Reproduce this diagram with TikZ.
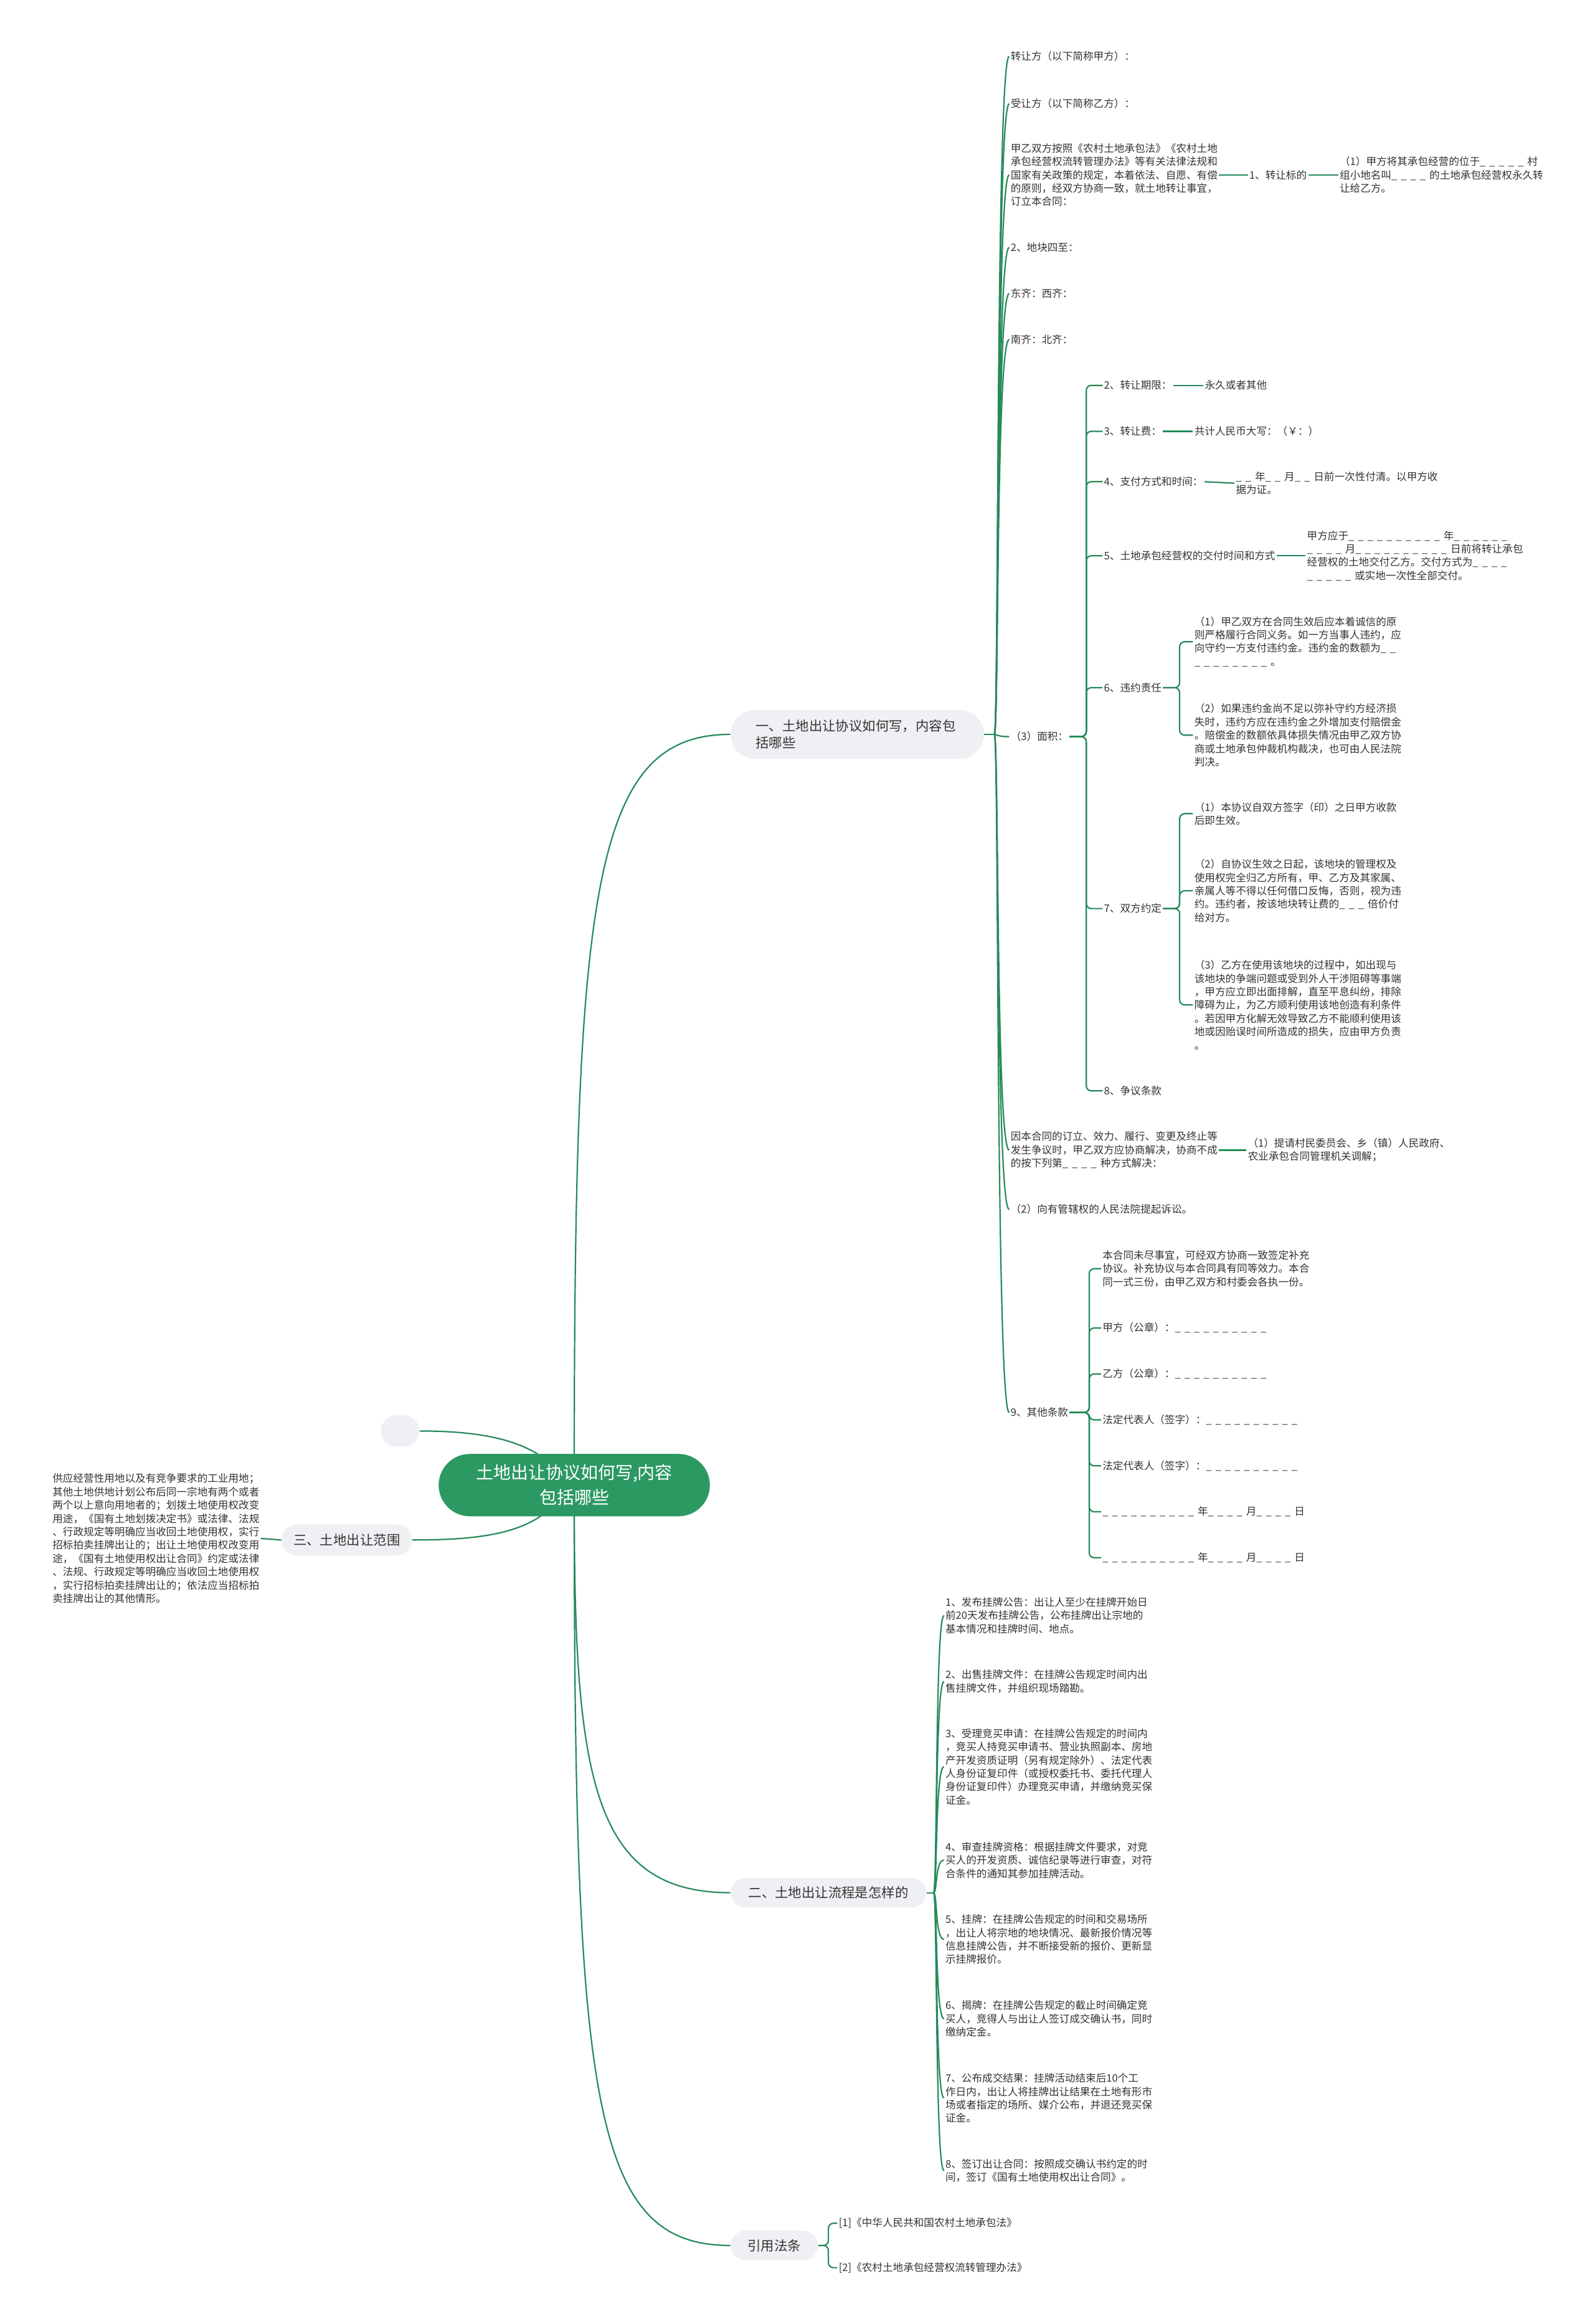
\documentclass[tikz,border=0pt]{standalone}
\usepackage{fontspec}
\setmainfont{Noto Sans CJK SC}
\usetikzlibrary{backgrounds}
\definecolor{lc}{HTML}{268A5A}
\definecolor{rootc}{HTML}{2C9963}
\definecolor{pillc}{HTML}{EEF0F3}
\definecolor{tc}{HTML}{333333}
\newcommand\bk[1]{\foreach\bkv in {1,...,#1}{\makebox[0.92em][l]{\_}}}
\tikzset{
  con/.style={draw=lc, line width=1.1pt},
  tx/.style={anchor=west, inner sep=1pt, align=left, text=tc, font=\fontsize{8.3}{10.7}\selectfont},
  pill/.style={fill=pillc, text=tc, font=\fontsize{10.7}{13.5}\selectfont, inner sep=0pt},
}
\begin{document}
\begin{tikzpicture}[x=1.1896pt,y=-1.1896pt]
\useasboundingbox (0,0) rectangle (1076,1568);
% root and branches
\node[fill=rootc, text=white, font=\fontsize{14}{20}\selectfont, align=center, minimum width=217.7pt, minimum height=50pt, rounded corners=25pt, inner sep=0pt] (root) at (387.5,1002) {土地出让协议如何写,内容\\包括哪些};
\node[pill, minimum width=203.4pt, minimum height=39.3pt, rounded corners=19.6pt, text width=163pt, align=left] (b1) at (578.5,495.5) {一、土地出让协议如何写，内容包\\括哪些};
\node[pill, minimum width=157pt, minimum height=23.8pt, rounded corners=11.9pt] (b2) at (559,1277) {二、土地出让流程是怎样的};
\node[pill, minimum width=70.2pt, minimum height=23.8pt, rounded corners=11.9pt] (b3) at (522.5,1515) {引用法条};
\node[pill, minimum width=104.7pt, minimum height=25pt, rounded corners=12.5pt] (b4) at (234,1039) {三、土地出让范围};
\node[pill, minimum width=31pt, minimum height=25pt, rounded corners=12.5pt] (em) at (270,965.5) {};
% left block
\node[tx, anchor=east] (l1) at (176,1038) {供应经营性用地以及有竞争要求的工业用地；\\其他土地供地计划公布后同一宗地有两个或者\\两个以上意向用地者的；划拨土地使用权改变\\用途，《国有土地划拨决定书》或法律、法规\\、行政规定等明确应当收回土地使用权，实行\\招标拍卖挂牌出让的；出让土地使用权改变用\\途，《国有土地使用权出让合同》约定或法律\\、法规、行政规定等明确应当收回土地使用权\\，实行招标拍卖挂牌出让的；依法应当招标拍\\卖挂牌出让的其他情形。};
% branch one children
\node[tx] (c1) at (681,38) {转让方（以下简称甲方）：};
\node[tx] (c2) at (681,70) {受让方（以下简称乙方）：};
\node[tx] (c3) at (681,118) {甲乙双方按照《农村土地承包法》《农村土地\\承包经营权流转管理办法》等有关法律法规和\\国家有关政策的规定，本着依法、自愿、有偿\\的原则，经双方协商一致，就土地转让事宜，\\订立本合同：};
\node[tx] (c3a) at (842,118) {1、转让标的};
\node[tx] (c3b) at (903,118) {（1）甲方将其承包经营的位于\bk{5}村\\组小地名叫\bk{4}的土地承包经营权永久转\\让给乙方。};
\node[tx] (c4) at (681,167) {2、地块四至：};
\node[tx] (c5) at (681,198) {东齐：西齐：};
\node[tx] (c6) at (681,229) {南齐：北齐：};
\node[tx] (c7) at (681,497) {（3）面积：};
\node[tx] (c8) at (681,776) {因本合同的订立、效力、履行、变更及终止等\\发生争议时，甲乙双方应协商解决，协商不成\\的按下列第\bk{4}种方式解决：};
\node[tx] (c8a) at (841,776) {（1）提请村民委员会、乡（镇）人民政府、\\农业承包合同管理机关调解；};
\node[tx] (c9) at (681,816) {（2）向有管辖权的人民法院提起诉讼。};
\node[tx] (c10) at (681,953) {9、其他条款};
% area children
\node[tx] (d1) at (744,260) {2、转让期限：};
\node[tx] (e1) at (812,260) {永久或者其他};
\node[tx] (d2) at (744,291) {3、转让费：};
\node[tx] (e2) at (805,291) {共计人民币大写：（￥：）};
\node[tx] (d3) at (744,325) {4、支付方式和时间：};
\node[tx] (e3) at (833,326) {\bk{2}年\bk{2}月\bk{2}日前一次性付清。以甲方收\\据为证。};
\node[tx] (d4) at (744,375) {5、土地承包经营权的交付时间和方式};
\node[tx] (e4) at (881,375) {甲方应于\bk{10}年\bk{6}\\\bk{4}月\bk{10}日前将转让承包\\经营权的土地交付乙方。交付方式为\bk{4}\\\bk{5}或实地一次性全部交付。};
\node[tx] (d5) at (744,464) {6、违约责任};
\node[tx] (f1) at (805,433) {（1）甲乙双方在合同生效后应本着诚信的原\\则严格履行合同义务。如一方当事人违约，应\\向守约一方支付违约金。违约金的数额为\bk{2}\\\bk{8}。};
\node[tx] (f2) at (805,496) {（2）如果违约金尚不足以弥补守约方经济损\\失时，违约方应在违约金之外增加支付赔偿金\\。赔偿金的数额依具体损失情况由甲乙双方协\\商或土地承包仲裁机构裁决，也可由人民法院\\判决。};
\node[tx] (d6) at (744,613) {7、双方约定};
\node[tx] (g1) at (805,549) {（1）本协议自双方签字（印）之日甲方收款\\后即生效。};
\node[tx] (g2) at (805,601) {（2）自协议生效之日起，该地块的管理权及\\使用权完全归乙方所有，甲、乙方及其家属、\\亲属人等不得以任何借口反悔，否则，视为违\\约。违约者，按该地块转让费的\bk{3}倍价付\\给对方。};
\node[tx] (g3) at (805,678) {（3）乙方在使用该地块的过程中，如出现与\\该地块的争端问题或受到外人干涉阻碍等事端\\，甲方应立即出面排解，直至平息纠纷，排除\\障碍为止，为乙方顺利使用该地创造有利条件\\。若因甲方化解无效导致乙方不能顺利使用该\\地或因贻误时间所造成的损失，应由甲方负责\\。};
\node[tx] (d7) at (744,736) {8、争议条款};
% other clauses children
\node[tx] (h1) at (743,856) {本合同未尽事宜，可经双方协商一致签定补充\\协议。补充协议与本合同具有同等效力。本合\\同一式三份，由甲乙双方和村委会各执一份。};
\node[tx] (h2) at (743,896) {甲方（公章）：\bk{10}};
\node[tx] (h3) at (743,927) {乙方（公章）：\bk{10}};
\node[tx] (h4) at (743,958) {法定代表人（签字）：\bk{10}};
\node[tx] (h5) at (743,989) {法定代表人（签字）：\bk{10}};
\node[tx] (h6) at (743,1020) {\bk{10}年\bk{4}月\bk{4}日};
\node[tx] (h7) at (743,1051) {\bk{10}年\bk{4}月\bk{4}日};
% branch two children
\node[tx] (i1) at (637,1090) {1、发布挂牌公告：出让人至少在挂牌开始日\\前20天发布挂牌公告，公布挂牌出让宗地的\\基本情况和挂牌时间、地点。};
\node[tx] (i2) at (637,1134.5) {2、出售挂牌文件：在挂牌公告规定时间内出\\售挂牌文件，并组织现场踏勘。};
\node[tx] (i3) at (637,1192) {3、受理竞买申请：在挂牌公告规定的时间内\\，竞买人持竞买申请书、营业执照副本、房地\\产开发资质证明（另有规定除外）、法定代表\\人身份证复印件（或授权委托书、委托代理人\\身份证复印件）办理竞买申请，并缴纳竞买保\\证金。};
\node[tx] (i4) at (637,1255) {4、审查挂牌资格：根据挂牌文件要求，对竞\\买人的开发资质、诚信纪录等进行审查，对符\\合条件的通知其参加挂牌活动。};
\node[tx] (i5) at (637,1308.5) {5、挂牌：在挂牌公告规定的时间和交易场所\\，出让人将宗地的地块情况、最新报价情况等\\信息挂牌公告，并不断接受新的报价、更新显\\示挂牌报价。};
\node[tx] (i6) at (637,1362) {6、揭牌：在挂牌公告规定的截止时间确定竞\\买人，竞得人与出让人签订成交确认书，同时\\缴纳定金。};
\node[tx] (i7) at (637,1415.5) {7、公布成交结果：挂牌活动结束后10个工\\作日内，出让人将挂牌出让结果在土地有形市\\场或者指定的场所、媒介公布，并退还竞买保\\证金。};
\node[tx] (i8) at (637,1464.5) {8、签订出让合同：按照成交确认书约定的时\\间，签订《国有土地使用权出让合同》。};
% references
\node[tx] (j1) at (565,1500) {[1]《中华人民共和国农村土地承包法》};
\node[tx] (j2) at (565,1530) {[2]《农村土地承包经营权流转管理办法》};
% connectors
\begin{pgfonlayer}{background}
\fill[white] (0,0) rectangle (1076,1568);
\draw[con] (387.5,990) .. controls (387.5,600) and (400,495.5) .. (b1.west);
\draw[con] (387.5,1015) .. controls (387.5,1200) and (400,1277) .. (b2.west);
\draw[con] (387.5,1015) .. controls (387.5,1420) and (400,1515) .. (b3.west);
\draw[con] (378,995) .. controls (360,970) and (320,965.5) .. (em.east);
\draw[con] (378,1010) .. controls (360,1036) and (320,1039) .. (b4.east);
\draw[con] (b4.west) -- (l1.east);
\draw[con] (b1.east) -- (671,495.5);
\foreach \n/\yy in {c1/38,c2/70,c3/118,c4/167,c5/198,c6/229,c7/497,c8/776,c9/816,c10/953}
  \draw[con] (671,495.5) .. controls (674,495.5) and (672,\yy) .. (\n.west);
\draw[con] (b2.east) -- (630,1277);
\foreach \n/\yy in {i1/1090,i2/1134.5,i3/1192,i4/1255,i5/1308.5,i6/1362,i7/1415.5,i8/1464.5}
  \draw[con] (630,1277) .. controls (632.5,1277) and (631,\yy) .. (\n.west);
\foreach \n in {d1,d2,d3,d4,d5,d6,d7}
  \draw[con, rounded corners=4pt] (c7.east) -- (733,497) |- (\n.west);
\foreach \n in {f1,f2}
  \draw[con, rounded corners=4pt] (d5.east) -- (796,464) |- (\n.west);
\foreach \n in {g1,g2,g3}
  \draw[con, rounded corners=4pt] (d6.east) -- (796,613) |- (\n.west);
\foreach \n in {h1,h2,h3,h4,h5,h6,h7}
  \draw[con, rounded corners=4pt] (c10.east) -- (735,953) |- (\n.west);
\foreach \n in {j1,j2}
  \draw[con, rounded corners=4pt] (b3.east) -- (559,1515) |- (\n.west);
\draw[con] (c3.east) -- (c3a.west);
\draw[con] (c3a.east) -- (c3b.west);
\draw[con] (d1.east) -- (e1.west);
\draw[con] (d2.east) -- (e2.west);
\draw[con] (d3.east) -- (e3.west);
\draw[con] (d4.east) -- (e4.west);
\draw[con] (c8.east) -- (c8a.west);
\end{pgfonlayer}
\end{tikzpicture}
\end{document}
